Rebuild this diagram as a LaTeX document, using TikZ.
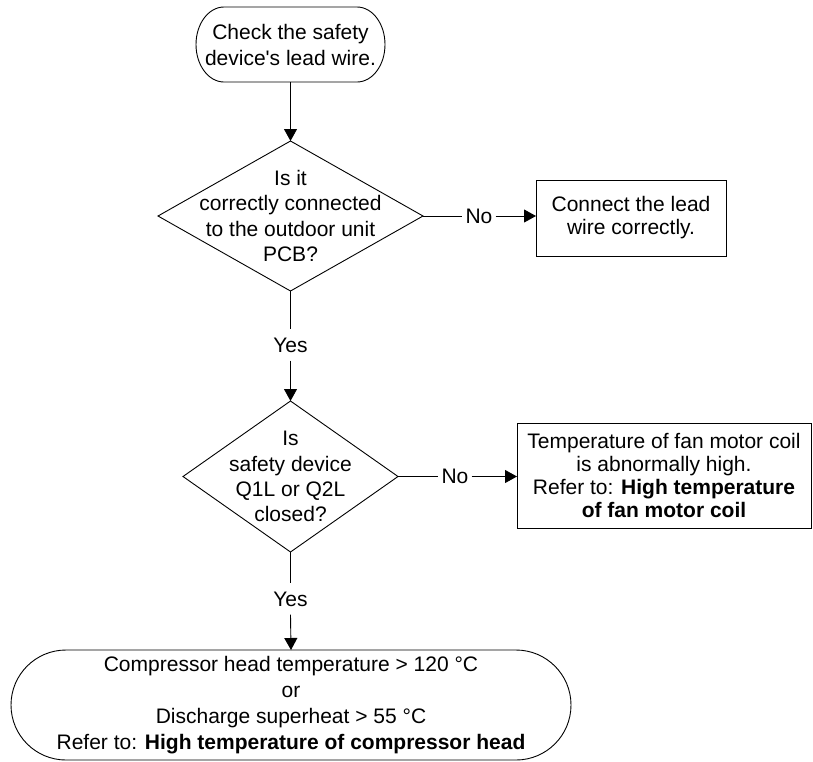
\documentclass[tikz,border=0pt]{standalone}
\usepackage{fontspec}
\setmainfont{Liberation Sans}
\usetikzlibrary{shapes.geometric,arrows.meta}
\begin{document}
\begin{tikzpicture}[x=1pt,y=1pt,
  every node/.style={font=\fontsize{21}{25}\selectfont},
  line/.style={line width=0.9pt},
  arr/.style={line width=0.9pt,-{Triangle[length=12pt,width=13pt]}},
  dia/.style={shape=diamond,draw,line width=0.9pt,inner sep=0pt,outer sep=0pt},
  box/.style={shape=rectangle,draw,line width=0.9pt,inner sep=0pt,outer sep=0pt,align=center},
  ghost/.style={shape=rectangle,inner sep=0pt,outer sep=0pt,align=center},
  lbl/.style={inner xsep=3pt,inner ysep=8pt}
]
\useasboundingbox (0,0) rectangle (813,-761);

% start terminal
\node[ghost,minimum width=189pt,minimum height=75pt,font=\fontsize{21}{26}\selectfont] (st) at (290.5,-44.5)
  {Check the safety\\device\textquotesingle s lead wire.};
\draw[line] ([xshift=28pt]st.north west) -- ([xshift=-28pt]st.north east)
  arc[start angle=90,end angle=-90,x radius=28pt,y radius=37.5pt]
  -- ([xshift=28pt]st.south west)
  arc[start angle=270,end angle=90,x radius=28pt,y radius=37.5pt] -- cycle;

% decision 1
\node[dia,minimum width=265pt,minimum height=150pt] (d1) at (290.5,-216) {};
\node[align=center,inner sep=0pt,font=\fontsize{21}{25.5}\selectfont] (d1t) at (d1) {Is it\\correctly connected\\to the outdoor unit\\PCB?};
\node[lbl] (no1) at (479,-216) {No};
\node[box,minimum width=190pt,minimum height=76pt,font=\fontsize{21}{23}\selectfont] (b1) at (631,-218) {Connect the lead\\wire correctly.};

\draw[arr] (st.south) -- (d1.north);
\draw[line] (d1.east) -- (no1.west);
\draw[arr] (no1.east) -- (no1.east -| b1.west);

% decision 2
\node[lbl] (yes1) at (290.5,-345) {Yes};
\node[dia,minimum width=215pt,minimum height=151pt] (d2) at (290.5,-476.5) {};
\node[align=center,inner sep=0pt,font=\fontsize{21}{25.2}\selectfont] (d2t) at (d2) {Is\\safety device\\Q1L or Q2L\\closed?};
\node[lbl] (no2) at (455,-476.5) {No};
\node[box,minimum width=294pt,minimum height=105pt,font=\fontsize{21}{23}\selectfont] (b2) at (664,-475.5)
  {Temperature of fan motor coil\\is abnormally high.\\Refer to: \textbf{High temperature}\\\textbf{of fan motor coil}};

\draw[line] (d1.south) -- (yes1.north);
\draw[arr] (yes1.south) -- (d2.north);
\draw[line] (d2.east) -- (no2.west);
\draw[arr] (no2.east) -- (no2.east -| b2.west);

% end terminal
\node[lbl] (yes2) at (290.5,-599) {Yes};
\node[ghost,minimum width=560pt,minimum height=110pt,font=\fontsize{21}{26}\selectfont] (en) at (291,-705)
  {Compressor head temperature > 120 °C\\or\\Discharge superheat > 55 °C\\Refer to: \textbf{High temperature of compressor head}};
\draw[line] ([xshift=55pt]en.north west) -- ([xshift=-55pt]en.north east)
  arc[start angle=90,end angle=-90,x radius=55pt,y radius=55pt]
  -- ([xshift=55pt]en.south west)
  arc[start angle=270,end angle=90,x radius=55pt,y radius=55pt] -- cycle;

\draw[line] (d2.south) -- (yes2.north);
\draw[arr] (yes2.south) -- (en.north);
\end{tikzpicture}
\end{document}
